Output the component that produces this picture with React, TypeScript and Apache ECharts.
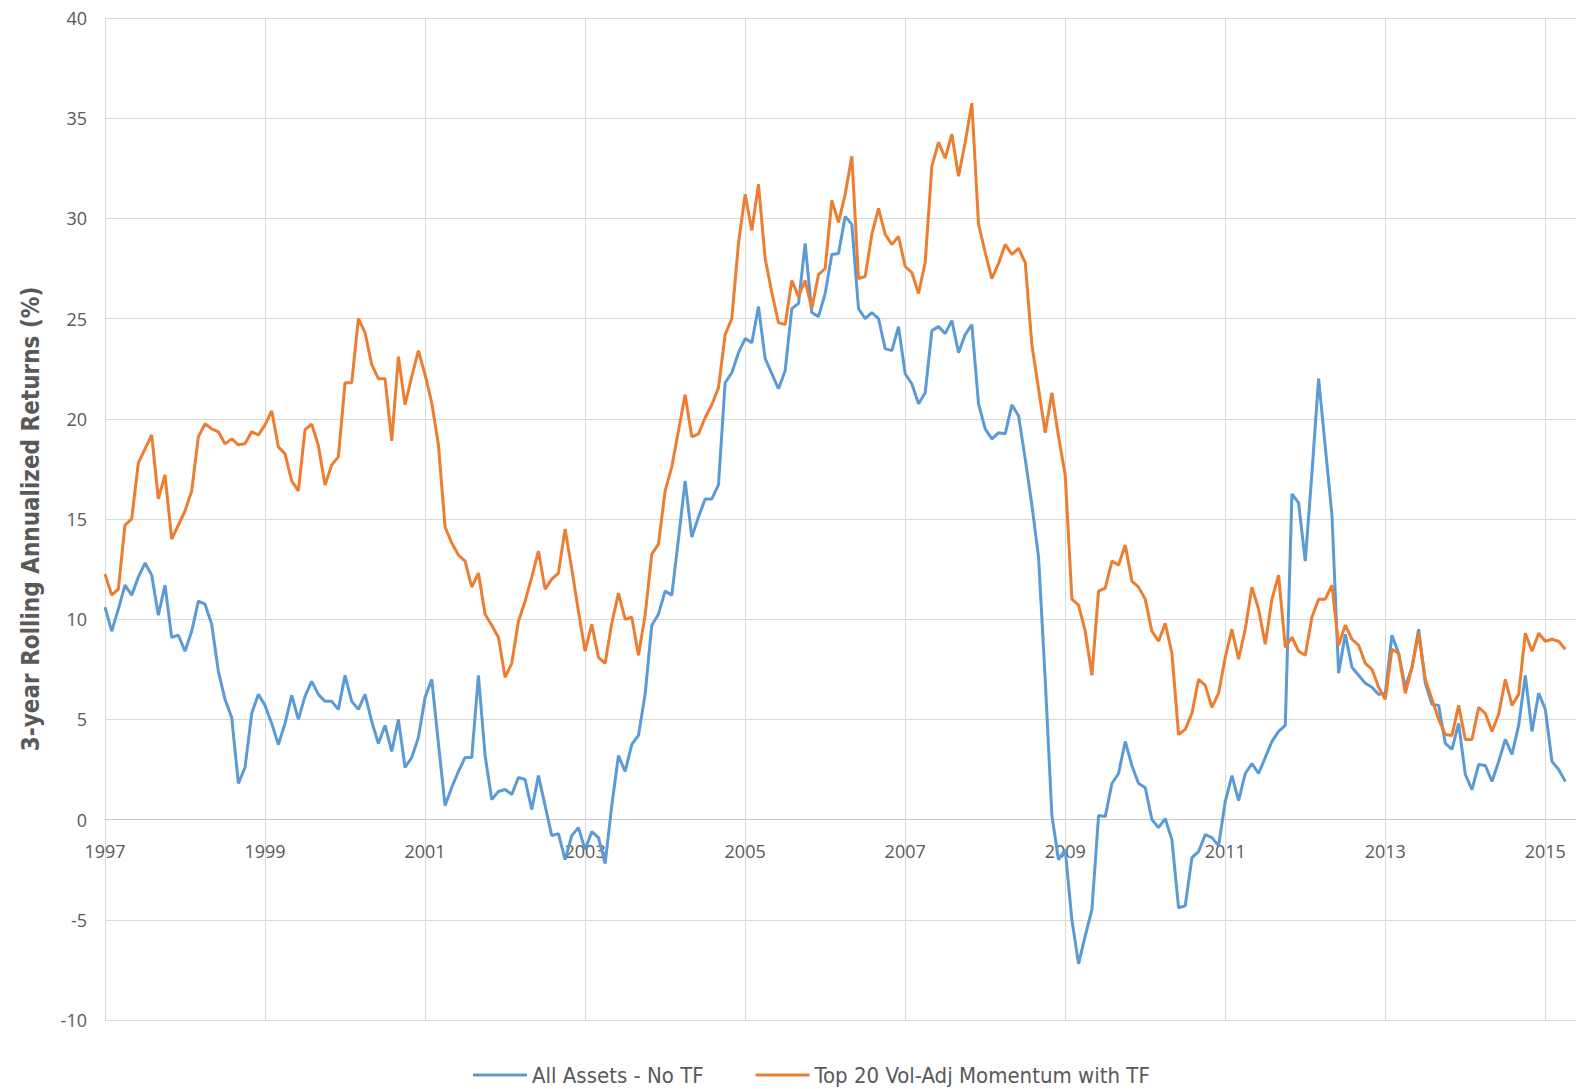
import React, { useEffect, useRef } from "react";
import * as echarts from "echarts";

const START_YEAR = 1997;
const TICK_STEP_MONTHS = 24;
const LAST_MONTH_EDGE = 220.6;

const seriesNames = ["All Assets - No TF", "Top 20 Vol-Adj Momentum with TF"];

const allAssetsNoTF: number[] = [
  10.6, 9.4, 10.5, 11.7, 11.2, 12.1, 12.8, 12.2, 10.2, 11.7, 9.1, 9.2,
  8.4, 9.4, 10.9, 10.75, 9.75, 7.4, 6.0, 5.1, 1.8, 2.6, 5.3, 6.25,
  5.7, 4.8, 3.75, 4.8, 6.2, 5.0, 6.16, 6.9, 6.25, 5.9, 5.9, 5.5,
  7.2, 5.9, 5.5, 6.25, 4.9, 3.8, 4.7, 3.4, 5.0, 2.6, 3.1, 4.1,
  6.1, 7.0, 3.8, 0.7, 1.6, 2.4, 3.1, 3.1, 7.2, 3.2, 1.0, 1.4,
  1.5, 1.25, 2.1, 2.0, 0.5, 2.2, 0.7, -0.8, -0.7, -2.0, -0.8, -0.4,
  -1.5, -0.6, -0.9, -2.2, 0.7, 3.2, 2.4, 3.75, 4.2, 6.25, 9.7, 10.25,
  11.4, 11.2, 14.0, 16.9, 14.1, 15.1, 16.0, 16.0, 16.7, 21.8, 22.3, 23.3,
  24.0, 23.8, 25.6, 23.0, 22.25, 21.5, 22.4, 25.5, 25.75, 28.75, 25.3, 25.1,
  26.25, 28.2, 28.25, 30.1, 29.7, 25.5, 25.0, 25.3, 25.0, 23.5, 23.4, 24.6,
  22.25, 21.75, 20.75, 21.3, 24.4, 24.6, 24.25, 24.9, 23.3, 24.2, 24.7, 20.75,
  19.5, 19.0, 19.3, 19.25, 20.7, 20.15, 18.0, 15.7, 13.1, 7.0, 0.2, -2.0,
  -1.5, -5.0, -7.2, -5.8, -4.5, 0.2, 0.15, 1.8, 2.3, 3.9, 2.7, 1.8,
  1.6, 0.0, -0.4, 0.05, -1.0, -4.4, -4.3, -1.9, -1.6, -0.75, -0.9, -1.3,
  0.9, 2.2, 0.95, 2.3, 2.8, 2.3, 3.1, 3.9, 4.4, 4.7, 16.25, 15.8,
  12.9, 17.3, 22.0, 18.6, 15.2, 7.3, 9.25, 7.6, 7.2, 6.8, 6.6, 6.25,
  6.3, 9.2, 8.3, 6.6, 7.6, 9.5, 6.8, 5.75, 5.7, 3.8, 3.5, 4.8,
  2.25, 1.5, 2.75, 2.7, 1.9, 2.9, 4.0, 3.25, 4.7, 7.2, 4.4, 6.3,
  5.5, 2.9, 2.5, 1.9,
];

const top20MomentumTF: number[] = [
  12.25, 11.2, 11.5, 14.7, 15.0, 17.8, 18.5, 19.2, 16.0, 17.2, 14.0, 14.7,
  15.4, 16.4, 19.1, 19.75, 19.5, 19.35, 18.75, 19.0, 18.7, 18.75, 19.35, 19.2,
  19.7, 20.4, 18.6, 18.25, 16.9, 16.4, 19.46, 19.73, 18.66, 16.7, 17.7, 18.1,
  21.8, 21.8, 25.0, 24.3, 22.7, 22.0, 22.0, 18.9, 23.1, 20.7, 22.1, 23.4,
  22.2, 20.8, 18.7, 14.6, 13.8, 13.2, 12.9, 11.6, 12.3, 10.25, 9.7, 9.1,
  7.1, 7.8, 9.9, 10.9, 12.1, 13.4, 11.5, 12.0, 12.3, 14.5, 12.5, 10.4,
  8.4, 9.75, 8.1, 7.8, 9.8, 11.3, 10.0, 10.1, 8.2, 10.2, 13.25, 13.75,
  16.4, 17.6, 19.4, 21.2, 19.1, 19.25, 20.05, 20.7, 21.55, 24.2, 25.0, 28.75,
  31.2, 29.4, 31.7, 28.0, 26.3, 24.8, 24.7, 26.9, 26.1, 26.9, 25.5, 27.2,
  27.5, 30.9, 29.8, 31.2, 33.1, 27.0, 27.1, 29.2, 30.5, 29.2, 28.7, 29.1,
  27.6, 27.3, 26.25, 27.8, 32.6, 33.8, 33.0, 34.2, 32.1, 33.8, 35.75, 29.7,
  28.3, 27.0, 27.75, 28.7, 28.2, 28.5, 27.8, 23.7, 21.5, 19.3, 21.3, 19.1,
  17.2, 11.0, 10.7, 9.4, 7.2, 11.4, 11.55, 12.9, 12.7, 13.7, 11.9, 11.6,
  11.0, 9.4, 8.9, 9.8, 8.3, 4.25, 4.5, 5.3, 7.0, 6.7, 5.6, 6.3,
  8.1, 9.5, 8.0, 9.5, 11.6, 10.5, 8.75, 11.0, 12.2, 8.6, 9.1, 8.4,
  8.2, 10.1, 11.0, 11.0, 11.7, 8.7, 9.7, 9.0, 8.7, 7.8, 7.5, 6.6,
  6.0, 8.5, 8.3, 6.3, 7.6, 9.3, 7.0, 6.0, 5.0, 4.25, 4.2, 5.7,
  4.0, 4.0, 5.6, 5.3, 4.4, 5.25, 7.0, 5.7, 6.25, 9.3, 8.4, 9.3,
  8.9, 9.0, 8.9, 8.5,
];

const yMin = -10;
const yMax = 40;
const yStep = 5;

const BLUE = "#5B9BD5";
const ORANGE = "#ED7D31";
const TEXT = "#595959";
const GRID = "#d9d9d9";
const NARROW = "'Liberation Sans Narrow', 'DejaVu Sans Condensed', 'Liberation Sans', sans-serif";

const GRID_TOP = 18;
const GRID_BOTTOM = 69;
const CHART_H = 1089;

export default function App() {
  const ref = useRef<HTMLDivElement>(null);

  useEffect(() => {
    if (!ref.current) return;
    const chart = echarts.init(ref.current, undefined, { renderer: "svg" });
    const plotH = CHART_H - GRID_TOP - GRID_BOTTOM;
    const zeroOffset = -(plotH * (0 - yMin)) / (yMax - yMin);
    chart.setOption({
      animation: false,
      backgroundColor: "#ffffff",
      grid: { left: 105, top: GRID_TOP, right: 3, bottom: GRID_BOTTOM, containLabel: false },
      legend: {
        data: seriesNames,
        top: 1059,
        left: 468,
        icon: "rect",
        itemWidth: 54,
        itemHeight: 3,
        itemGap: 52,
        textStyle: { fontFamily: NARROW, fontSize: 22, color: TEXT },
      },
      xAxis: {
        type: "value",
        position: "bottom",
        offset: zeroOffset,
        min: 0,
        max: LAST_MONTH_EDGE,
        interval: TICK_STEP_MONTHS,
        axisLine: { show: true, onZero: false, lineStyle: { color: "#c8c8c8", width: 1 } },
        axisTick: { show: false },
        splitLine: { show: true, showMaxLine: false, lineStyle: { color: GRID, width: 1 } },
        axisLabel: {
          margin: 22,
          color: TEXT,
          fontFamily: "'Open Sans', sans-serif",
          fontSize: 18,
          showMaxLabel: false,
          formatter: (v: number) =>
            v % TICK_STEP_MONTHS === 0 ? String(START_YEAR + v / 12) : "",
        },
      },
      yAxis: {
        type: "value",
        min: yMin,
        max: yMax,
        interval: yStep,
        name: "3-year Rolling Annualized Returns (%)",
        nameLocation: "middle",
        nameGap: 62,
        nameTextStyle: {
          fontFamily: NARROW,
          fontWeight: "bold",
          fontSize: 24,
          color: TEXT,
        },
        axisLine: { show: true, onZero: false, lineStyle: { color: GRID, width: 1 } },
        axisTick: { show: false },
        splitLine: { show: true, lineStyle: { color: GRID, width: 1 } },
        axisLabel: {
          margin: 18,
          color: TEXT,
          fontFamily: "'Open Sans', sans-serif",
          fontSize: 18,
        },
      },
      series: [
        {
          name: seriesNames[0],
          type: "line",
          data: allAssetsNoTF.map((v, i) => [i, v]),
          showSymbol: false,
          symbol: "none",
          lineStyle: { color: BLUE, width: 3 },
          itemStyle: { color: BLUE },
          z: 3,
        },
        {
          name: seriesNames[1],
          type: "line",
          data: top20MomentumTF.map((v, i) => [i, v]),
          showSymbol: false,
          symbol: "none",
          lineStyle: { color: ORANGE, width: 3 },
          itemStyle: { color: ORANGE },
          z: 4,
        },
      ],
    });
    return () => chart.dispose();
  }, []);

  return (
    <div
      ref={ref}
      style={{ position: "absolute", left: 0, top: 0, width: 1579, height: CHART_H }}
    />
  );
}
